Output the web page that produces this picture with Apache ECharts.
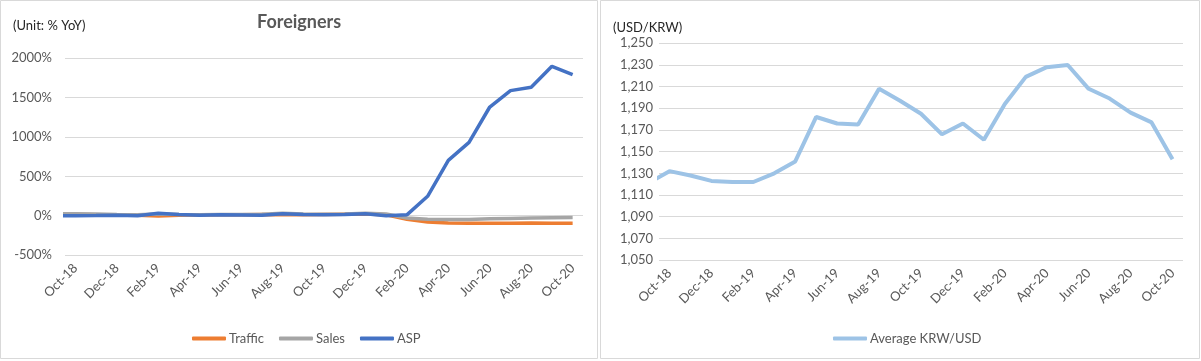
<!DOCTYPE html>
<html><head><meta charset="utf-8">
<script src="https://cdn.jsdelivr.net/npm/echarts@6/dist/echarts.min.js"></script>
<style>html,body{margin:0;padding:0;background:#fff}#c{width:1201px;height:361px}</style>
</head><body><div id="c"></div>
<script>
// Sep-18 is the month before the axis start; its point lies outside the plot and is clipped
const months = ['Sep-18','Oct-18','Nov-18','Dec-18','Jan-19','Feb-19','Mar-19','Apr-19','May-19','Jun-19','Jul-19','Aug-19','Sep-19','Oct-19','Nov-19','Dec-19','Jan-20','Feb-20','Mar-20','Apr-20','May-20','Jun-20','Jul-20','Aug-20','Sep-20','Oct-20'];
const traffic = [10,15,12,10,5,-5,5,8,10,12,15,10,12,15,18,20,10,-45,-80,-93,-95,-95,-95,-94,-95,-95];
const sales   = [25,25,22,15,10,20,15,12,15,15,18,30,20,18,22,30,20,-30,-45,-50,-48,-40,-35,-30,-25,-22];
const asp     = [0,0,2,5,0,30,15,5,10,8,5,25,15,12,15,25,0,10,246,703,932,1381,1589,1631,1898,1792];
const krw     = [1121,1132,1128,1123,1122,1122,1130,1141,1182,1176,1175,1208,1197,1185,1166,1176,1161,1194,1219,1228,1230,1208,1199,1186,1177,1143];
const leftTicks = {min:-500, max:2000, step:500};
const rightTicks = {min:1050, max:1250, step:20};

const FONT = 'Lato';
const GREY = '#595959';
const chart = echarts.init(document.getElementById('c'), null, {renderer:'canvas'});
const xCommon = {
  type:'category', data: months, min: 1, boundaryGap: true,
  axisLine:{show:false}, axisTick:{show:false},
  axisLabel:{interval:(i)=>i % 2 === 1, rotate:45, color:GREY, fontFamily:FONT, fontSize:13, margin:11}
};
chart.setOption({
  animation:false,
  graphic:[
    {type:'rect', shape:{x:0.5,y:0.5,width:597,height:358}, style:{fill:'none',stroke:'#d9d9d9',lineWidth:1}},
    {type:'rect', shape:{x:600.5,y:0.5,width:599,height:358}, style:{fill:'none',stroke:'#d9d9d9',lineWidth:1}},
    {type:'text', left:13, top:19, style:{text:'(Unit: % YoY)', fill:'#262626', font:'13px '+FONT}},
    {type:'text', left:613, top:21, style:{text:'(USD/KRW)', fill:'#262626', font:'13px '+FONT}},
    {type:'text', left:257, top:13, style:{text:'Foreigners', fill:GREY, font:'bold 18px '+FONT}}
  ],
  grid:[
    {left:65, top:58.3, width:518, height:196.7},
    {left:659, top:43.3, width:524, height:216.7}
  ],
  legend:[
    {left:187, top:327, itemWidth:34, itemHeight:4, itemGap:15, icon:'roundRect',
     textStyle:{color:GREY, fontFamily:FONT, fontSize:13, padding:[0,0,0,-2]},
     data:['Traffic','Sales','ASP']},
    {left:828, top:327, itemWidth:34, itemHeight:4, icon:'roundRect',
     textStyle:{color:GREY, fontFamily:FONT, fontSize:13, padding:[0,0,0,-2]},
     data:['Average KRW/USD']}
  ],
  xAxis:[ Object.assign({gridIndex:0}, xCommon), Object.assign({gridIndex:1}, xCommon) ],
  yAxis:[
    {gridIndex:0, type:'value', min:leftTicks.min, max:leftTicks.max, interval:leftTicks.step,
     axisLine:{show:false}, axisTick:{show:false},
     splitLine:{lineStyle:{color:'#d9d9d9', width:1}},
     axisLabel:{color:GREY, fontFamily:FONT, fontSize:13, margin:13, formatter:v=>v+'%'}},
    {gridIndex:1, type:'value', min:rightTicks.min, max:rightTicks.max, interval:rightTicks.step,
     axisLine:{show:false}, axisTick:{show:false},
     splitLine:{lineStyle:{color:'#d9d9d9', width:1}},
     axisLabel:{color:GREY, fontFamily:FONT, fontSize:13, margin:6,
       formatter:v=>String(v).replace(/\B(?=(\d{3})+(?!\d))/g, ',')}}
  ],
  series:[
    {name:'Traffic', type:'line', xAxisIndex:0, yAxisIndex:0, data:traffic, showSymbol:false, symbol:'none',
     lineStyle:{color:'#ED7D31', width:3.5}, itemStyle:{color:'#ED7D31'}},
    {name:'Sales', type:'line', xAxisIndex:0, yAxisIndex:0, data:sales, showSymbol:false, symbol:'none',
     lineStyle:{color:'#A5A5A5', width:3.5}, itemStyle:{color:'#A5A5A5'}},
    {name:'ASP', type:'line', xAxisIndex:0, yAxisIndex:0, data:asp, showSymbol:false, symbol:'none',
     lineStyle:{color:'#4472C4', width:3.5}, itemStyle:{color:'#4472C4'}},
    {name:'Average KRW/USD', type:'line', xAxisIndex:1, yAxisIndex:1, data:krw, showSymbol:false, symbol:'none',
     lineStyle:{color:'#9DC3E6', width:4}, itemStyle:{color:'#9DC3E6'}}
  ]
});
</script></body></html>
